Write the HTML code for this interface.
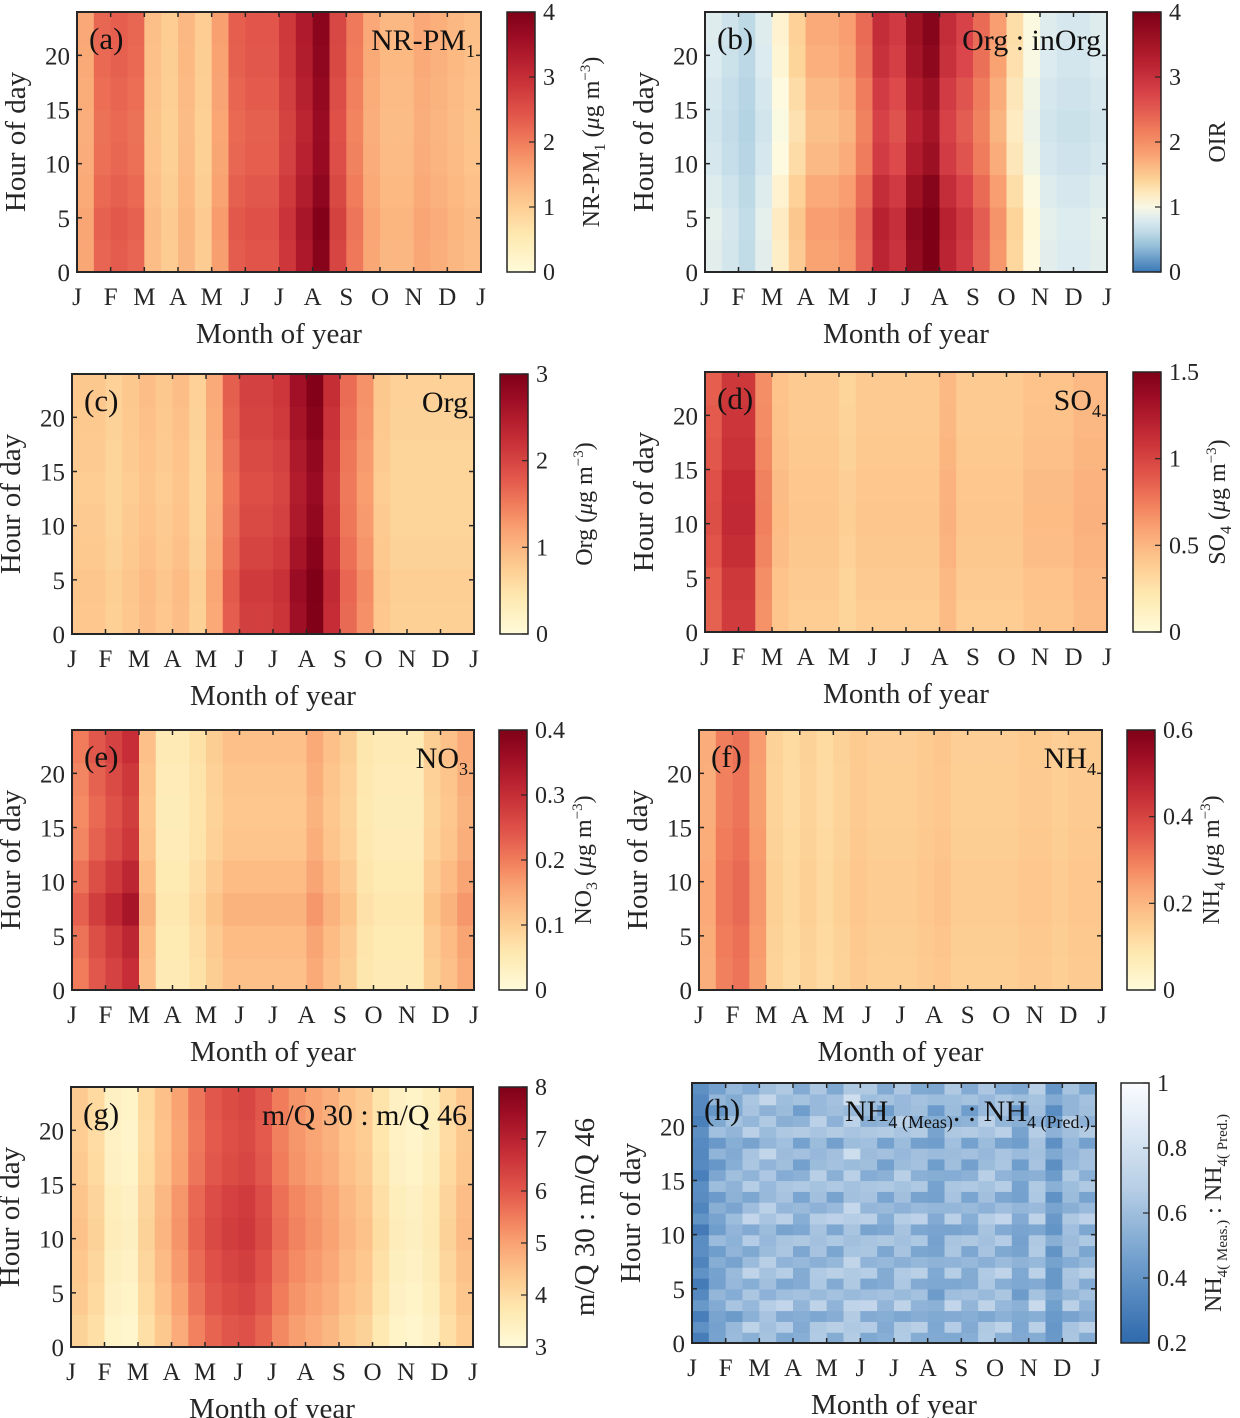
<!DOCTYPE html>
<html><head><meta charset="utf-8"><style>
body{margin:0;background:#fff}
svg{display:block;font-family:"Liberation Serif","DejaVu Serif",serif}
</style></head><body>
<svg id="fig" width="1240" height="1418" viewBox="0 0 1240 1418" xmlns="http://www.w3.org/2000/svg"></svg>
<script>
// ---- data (half-month columns, Jan..Dec; diurnal factors 8 bins of 3h) ----
const months = ["J","F","M","A","M","J","J","A","S","O","N","D","J"];
const hourTicks = [0,5,10,15,20];
const pmCols  = [1.5,2.2,2.3,2.2,1.2,1.0,1.3,1.0,1.6,2.3,2.4,2.4,2.8,3.3,3.8,2.6,2.0,1.5,1.3,1.3,1.5,1.4,1.3,1.2];
const pmDiur  = [1.02,1.04,1.0,0.97,0.96,0.98,1.0,1.01];
const oirCols = [0.8,0.7,0.6,0.8,1.1,1.4,1.7,1.7,1.8,2.3,3.0,2.8,3.5,3.8,3.0,2.7,2.3,1.8,1.3,1.0,0.8,0.75,0.75,0.8];
const oirDiur = [1.06,1.08,1.02,0.95,0.92,0.95,1.0,1.02];
const orgCols = [0.8,0.8,0.7,0.8,0.9,0.8,0.9,0.7,1.1,1.7,2.0,2.0,2.1,2.6,2.9,2.2,1.6,1.3,0.8,0.7,0.7,0.7,0.7,0.7];
const orgDiur = [1.03,1.05,1.0,0.97,0.95,0.97,1.0,1.02];
const so4Cols = [0.9,1.1,1.1,0.7,0.45,0.4,0.4,0.4,0.35,0.4,0.4,0.4,0.4,0.4,0.5,0.4,0.4,0.4,0.4,0.45,0.45,0.45,0.5,0.5];
const so4Diur = [0.95,0.97,1.02,1.05,1.04,1.0,0.98,0.97];
const no3Cols = [0.2,0.24,0.27,0.3,0.12,0.05,0.05,0.07,0.1,0.12,0.12,0.12,0.12,0.12,0.15,0.12,0.1,0.06,0.05,0.05,0.05,0.1,0.12,0.15];
const no3Diur = [1.0,1.05,1.15,1.05,0.95,0.92,0.95,1.0];
const nh4Cols = [0.22,0.3,0.32,0.25,0.14,0.12,0.14,0.12,0.14,0.16,0.15,0.15,0.15,0.16,0.17,0.15,0.15,0.15,0.15,0.16,0.16,0.15,0.16,0.16];
const nh4Diur = [0.98,1.0,1.03,1.03,1.0,0.98,0.98,0.99];
const mqCols  = [4.3,4.0,3.4,3.3,4.0,4.5,5.0,5.6,6.0,6.2,6.3,6.0,5.5,5.2,5.0,4.8,4.5,4.3,3.8,3.4,3.3,3.5,4.0,4.4];
const mqDiur  = [0.97,1.0,1.02,1.04,1.03,1.0,0.99,1.0];
const ratCols = [0.35,0.5,0.55,0.6,0.62,0.6,0.55,0.62,0.58,0.66,0.6,0.55,0.62,0.58,0.5,0.6,0.55,0.62,0.6,0.5,0.62,0.45,0.6,0.58];
const ratDiur = [0.95,1.05,0.9,1.08,1.0,0.93,1.06,0.98];

const SEQ=[[0,"#fffbd9"],[0.15,"#fee7ae"],[0.28,"#fdc68c"],[0.4,"#f9a272"],[0.5,"#f07c5c"],[0.6,"#e2574b"],[0.75,"#c62d36"],[0.9,"#9d0d24"],[1,"#7f0017"]];
const DIV=[[0,"#3a78b6"],[0.12,"#a8cde0"],[0.2,"#dcebef"],[0.26,"#fefbe0"],[0.35,"#fdd59a"],[0.45,"#f9a272"],[0.55,"#ef7a5b"],[0.68,"#d9444a"],[0.82,"#b41e2e"],[1,"#7e0016"]];
const BLU=[[0,"#2f6aad"],[0.3,"#6d9ccb"],[0.6,"#b8cfe6"],[1,"#fbfcff"]];
function hex(h){return [1,3,5].map(i=>parseInt(h.substr(i,2),16));}
function cmap(m,t){t=Math.max(0,Math.min(1,t));for(let i=1;i<m.length;i++){if(t<=m[i][0]){const a=m[i-1],b=m[i];const f=(t-a[0])/(b[0]-a[0]);const A=hex(a[1]),B=hex(b[1]);return "rgb("+A.map((v,k)=>Math.round(v+(B[k]-v)*f)).join(",")+")";}}return m[m.length-1][1];}

const U='(<tspan font-style="italic">μ</tspan>g m<tspan dy="-9" font-size="15">−3</tspan><tspan dy="9">)</tspan>';
const panels=[
 {lab:"(a)",title:'NR-PM<tspan dy="7" font-size="18">1</tspan>',cols:pmCols,diur:pmDiur,min:0,max:4,ticks:["0","1","2","3","4"],cm:SEQ,cbt:'NR-PM<tspan dy="6" font-size="16">1</tspan><tspan dy="-6"> </tspan>'+U,x:77,y:12,w:404,h:260,cb:507,bands:true},
 {lab:"(b)",title:"Org : inOrg",cols:oirCols,diur:oirDiur,min:0,max:4,ticks:["0","1","2","3","4"],cm:DIV,cbt:"OIR",x:705,y:12,w:402,h:260,cb:1133,bands:true},
 {lab:"(c)",title:"Org",cols:orgCols,diur:orgDiur,min:0,max:3,ticks:["0","1","2","3"],cm:SEQ,cbt:'Org '+U,x:72,y:374,w:402,h:260,cb:500,bands:true},
 {lab:"(d)",title:'SO<tspan dy="7" font-size="18">4</tspan>',cols:so4Cols,diur:so4Diur,min:0,max:1.5,ticks:["0","0.5","1","1.5"],cm:SEQ,cbt:'SO<tspan dy="6" font-size="16">4</tspan><tspan dy="-6"> </tspan>'+U,x:705,y:372,w:402,h:260,cb:1133,bands:true},
 {lab:"(e)",title:'NO<tspan dy="7" font-size="18">3</tspan>',cols:no3Cols,diur:no3Diur,min:0,max:0.4,ticks:["0","0.1","0.2","0.3","0.4"],cm:SEQ,cbt:'NO<tspan dy="6" font-size="16">3</tspan><tspan dy="-6"> </tspan>'+U,x:72,y:730,w:402,h:260,cb:499,bands:true},
 {lab:"(f)",title:'NH<tspan dy="7" font-size="18">4</tspan>',cols:nh4Cols,diur:nh4Diur,min:0,max:0.6,ticks:["0","0.2","0.4","0.6"],cm:SEQ,cbt:'NH<tspan dy="6" font-size="16">4</tspan><tspan dy="-6"> </tspan>'+U,x:699,y:730,w:403,h:260,cb:1127,bands:true},
 {lab:"(g)",title:"m/Q 30 : m/Q 46",cols:mqCols,diur:mqDiur,min:3,max:8,ticks:["3","4","5","6","7","8"],cm:SEQ,cbt:"m/Q 30 : m/Q 46",x:71,y:1087,w:402,h:260,cb:499,bands:true,bigcbt:true},
 {lab:"(h)",title:'NH<tspan dy="7" font-size="18">4 (Meas)</tspan><tspan dy="-7">. : NH</tspan><tspan dy="7" font-size="18">4 (Pred.)</tspan>',cols:ratCols,diur:ratDiur,min:0.2,max:1,ticks:["0.2","0.4","0.6","0.8","1"],cm:BLU,cbt:'NH<tspan dy="6" font-size="15">4( Meas.)</tspan><tspan dy="-6"> : NH</tspan><tspan dy="6" font-size="15">4( Pred.)</tspan>',x:692,y:1083,w:404,h:260,cb:1121,bands:false,pix:true}
];
const svg=document.getElementById('fig');
const NS="http://www.w3.org/2000/svg";
function el(tag,attrs,parent){const e=document.createElementNS(NS,tag);for(const k in attrs)e.setAttribute(k,attrs[k]);(parent||svg).appendChild(e);return e;}
const defs=el('defs',{});
panels.forEach((p,pi)=>{
  const g=el('g',{});
  
  
  const nc=p.cols.length, nr=p.pix?24:p.diur.length;
  const xS=i=>p.x+i*p.w/nc, yS=hr=>p.y+p.h-hr/24*p.h;
  for(let i=0;i<nc;i++){for(let r=0;r<nr;r++){
    const d=p.pix?p.diur[r%p.diur.length]*(1+((i*7+r*3)%5-2)*0.06):p.diur[r];
    const v=p.cols[i]*d;
    const hr1=(r+1)*24/nr;
    const c=el('rect',{x:xS(i).toFixed(2),y:yS(hr1).toFixed(2),width:(p.w/nc+0.6).toFixed(2),height:(p.h/nr+0.6).toFixed(2),fill:cmap(p.cm,(v-p.min)/(p.max-p.min))},g);
    
    
  }}
  const fr=el('rect',{x:p.x,y:p.y,width:p.w,height:p.h,fill:"none",stroke:"#262626","stroke-width":2},g);
  
  
  hourTicks.forEach(h=>{
    const y=yS(h);
    el('line',{x1:p.x,x2:p.x+5,y1:y,y2:y,stroke:"#262626","stroke-width":1.5},g);
    el('line',{x1:p.x+p.w,x2:p.x+p.w-5,y1:y,y2:y,stroke:"#262626","stroke-width":1.5},g);
    const t=el('text',{x:p.x-7,y:y+9,"text-anchor":"end","font-size":25,fill:"#262626"},g);t.textContent=h;
    
    
  });
  months.forEach((m,i)=>{
    const x=p.x+i*p.w/12;
    el('line',{x1:x,x2:x,y1:p.y+p.h,y2:p.y+p.h-5,stroke:"#262626","stroke-width":1.5},g);
    el('line',{x1:x,x2:x,y1:p.y,y2:p.y+5,stroke:"#262626","stroke-width":1.5},g);
    const t=el('text',{x:x,y:p.y+p.h+33,"text-anchor":"middle","font-size":25,fill:"#262626"},g);t.textContent=m;
    
    
  });
  const xl=el('text',{x:p.x+p.w/2,y:p.y+p.h+71,"text-anchor":"middle","font-size":29,fill:"#262626"},g);xl.textContent="Month of year";
  
  
  const yl=el('text',{transform:`translate(${p.x-52},${p.y+p.h/2}) rotate(-90)`,"text-anchor":"middle","font-size":29,fill:"#262626"},g);yl.textContent="Hour of day";
  
  
  const pl=el('text',{x:p.x+12,y:p.y+37,"font-size":31,fill:"#111"},g);pl.textContent=p.lab;
  
  
  const tt=el('text',{x:p.x+p.w-6,y:p.y+38,"text-anchor":"end","font-size":30,fill:"#111"},g);tt.innerHTML=p.title;
  
  
  const gid='grad'+pi;
  const lg=el('linearGradient',{id:gid,x1:0,y1:1,x2:0,y2:0},defs);
  for(let k=0;k<=20;k++){el('stop',{offset:k/20,"stop-color":cmap(p.cm,k/20)},lg);}
  const cb=el('rect',{x:p.cb,y:p.y,width:28,height:p.h,fill:`url(#${gid})`,stroke:"#262626","stroke-width":1.5},g);
  
  
  p.ticks.forEach((tl,k)=>{
    const v=parseFloat(tl);const y=p.y+p.h-(v-p.min)/(p.max-p.min)*p.h;
    el('line',{x1:p.cb+22,x2:p.cb+28,y1:y,y2:y,stroke:"#262626","stroke-width":1.2},g);
    const t=el('text',{x:p.cb+36,y:y+8,"font-size":24,fill:"#262626"},g);t.textContent=tl;
    
    
  });
  const ct=el('text',{transform:`translate(${p.cb+(p.bigcbt?95:p.pix?100:92)},${p.y+p.h/2}) rotate(-90)`,"text-anchor":"middle","font-size":p.bigcbt?29:24,fill:"#262626"},g);ct.innerHTML=p.cbt;
  
  
});
</script>
</body></html>
